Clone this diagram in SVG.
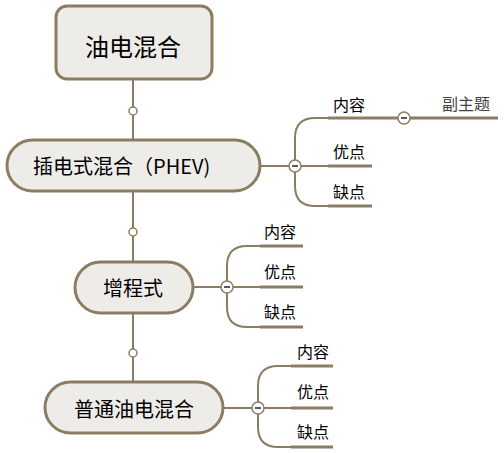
<svg xmlns="http://www.w3.org/2000/svg" width="504" height="453" viewBox="0 0 504 453">
<style>
text{font-family:"Noto Sans CJK SC","Noto Sans",sans-serif;fill:#000}
.node{fill:#eeece8;stroke:#8b7d62;stroke-width:3}
.ln{fill:none;stroke:#8b7d62;stroke-width:2}
.ul{fill:none;stroke:#8b7d62;stroke-width:3}
.dot{fill:#fff;stroke:#8b7d62;stroke-width:1.5}
.col{fill:#fff;stroke:#8b7d62;stroke-width:1.5}
.minus{stroke:#000;stroke-width:1.3}
.lbl{font-size:16px}
.big{font-size:20px}
</style>
<rect width="504" height="453" fill="#fff"/>
<g id="connectors">
<path class="ln" d="M133,80 V382"/>
<circle class="dot" cx="133" cy="111" r="4"/>
<circle class="dot" cx="133" cy="232" r="4"/>
<circle class="dot" cx="133" cy="353" r="4"/>
<path class="ln" d="M260,166 H295"/>
<path class="ln" d="M295,166 V138 Q295,118 315,118 H330"/>
<path class="ul" d="M328,118 H398"/>
<path class="ul" d="M410,118 H498"/>
<path class="ln" d="M295,166 H330"/>
<path class="ul" d="M328,166 H372"/>
<path class="ln" d="M295,166 V186 Q295,206 315,206 H330"/>
<path class="ul" d="M328,206 H372"/>
<g><circle class="col" cx="295" cy="166" r="6"/><path class="minus" d="M292,166 H298"/></g>
<g><circle class="col" cx="404" cy="118" r="6"/><path class="minus" d="M401,118 H407"/></g>
<path class="ln" d="M193,287 H227"/>
<path class="ln" d="M227,287 V266 Q227,246 247,246 H262"/>
<path class="ul" d="M260,246 H303"/>
<path class="ln" d="M227,287 H262"/>
<path class="ul" d="M260,287 H303"/>
<path class="ln" d="M227,287 V307 Q227,327 247,327 H262"/>
<path class="ul" d="M260,327 H303"/>
<g><circle class="col" cx="227" cy="287" r="6"/><path class="minus" d="M224,287 H230"/></g>
<path class="ln" d="M223,408 H258"/>
<path class="ln" d="M258,408 V386 Q258,366 278,366 H293"/>
<path class="ul" d="M291,366 H333"/>
<path class="ln" d="M258,408 H293"/>
<path class="ul" d="M291,408 H333"/>
<path class="ln" d="M258,408 V427 Q258,447 278,447 H293"/>
<path class="ul" d="M291,447 H333"/>
<g><circle class="col" cx="258" cy="408" r="6"/><path class="minus" d="M255,408 H261"/></g>
</g>
<g id="root">
<rect class="node" x="56" y="6" width="156" height="73" rx="11"/>
<text x="133" y="45" font-size="24" text-anchor="middle" dominant-baseline="central">油电混合</text>
</g>
<g id="phev">
<rect class="node" x="7" y="140" width="253" height="51" rx="25.5"/>
<text class="big" x="33" y="165.5" dominant-baseline="central">插电式混合（PHEV)</text>
</g>
<g id="phev-content"><text class="lbl" x="333" y="104" dominant-baseline="central">内容</text></g>
<g id="phev-sub"><text x="442" y="103" font-size="16" style="fill:#444" dominant-baseline="central">副主题</text></g>
<g id="phev-pro"><text class="lbl" x="333" y="151" dominant-baseline="central">优点</text></g>
<g id="phev-con"><text class="lbl" x="333" y="191" dominant-baseline="central">缺点</text></g>
<g id="erev">
<rect class="node" x="75" y="262" width="118" height="51" rx="25.5"/>
<text class="big" x="133" y="287.5" text-anchor="middle" dominant-baseline="central">增程式</text>
</g>
<g id="erev-content"><text class="lbl" x="264" y="231" dominant-baseline="central">内容</text></g>
<g id="erev-pro"><text class="lbl" x="264" y="271" dominant-baseline="central">优点</text></g>
<g id="erev-con"><text class="lbl" x="264" y="311" dominant-baseline="central">缺点</text></g>
<g id="hev">
<rect class="node" x="45" y="382" width="178" height="51" rx="25.5"/>
<text class="big" x="134" y="408.5" text-anchor="middle" dominant-baseline="central">普通油电混合</text>
</g>
<g id="hev-content"><text class="lbl" x="297" y="351" dominant-baseline="central">内容</text></g>
<g id="hev-pro"><text class="lbl" x="297" y="391" dominant-baseline="central">优点</text></g>
<g id="hev-con"><text class="lbl" x="297" y="431" dominant-baseline="central">缺点</text></g>
</svg>
